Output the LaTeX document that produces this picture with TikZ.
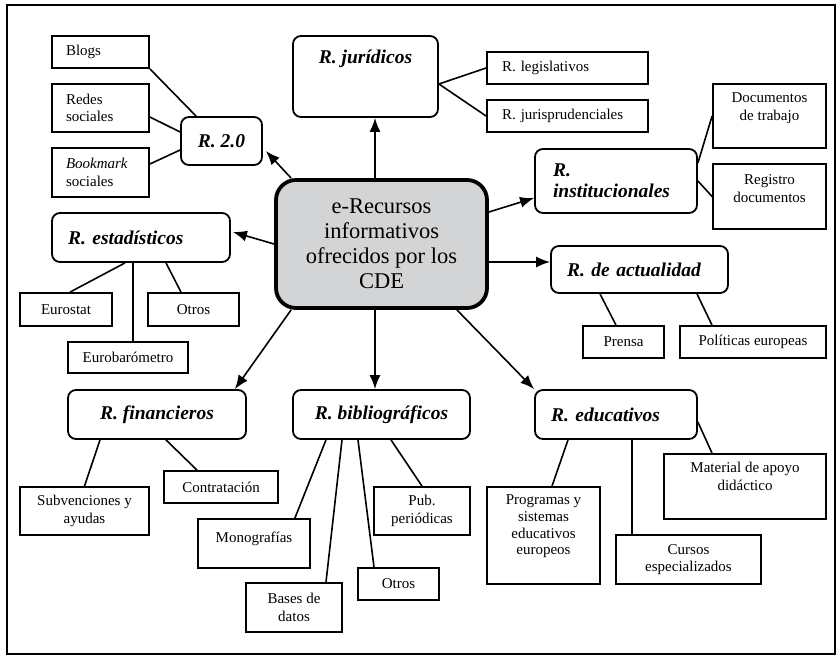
\documentclass[tikz,border=0pt]{standalone}
\usepackage{fontspec}
\setmainfont{Liberation Serif}
\usetikzlibrary{arrows.meta,calc}
\definecolor{cgray}{RGB}{211,212,214}
\tikzset{
  every node/.style={font=\fontsize{15}{17.5}\selectfont},
  leaf/.style={draw, line width=1.8pt, inner sep=0pt, align=center},
  head/.style={draw, line width=1.8pt, rounded corners=8pt, inner sep=0pt, align=center,
    font=\fontsize{19.5}{21}\selectfont\bfseries\itshape},
  conn/.style={line width=1.6pt},
  arr/.style={line width=1.6pt, -{Latex[length=14pt,width=11pt]}},
}
\begin{document}
\begin{tikzpicture}[x=1pt,y=-1pt]
\useasboundingbox (0,0) rectangle (836,656);
\draw[line width=1.5pt] (7,5) rectangle (835,654);

% R. 2.0 group
\node[leaf, minimum width=97pt, minimum height=32pt, text width=69pt, inner xsep=14pt, align=left] (blogs) at (100.5,52) {Blogs};
\node[leaf, minimum width=97pt, minimum height=48pt, text width=69pt, inner xsep=14pt, align=left] (redes) at (100.5,108) {Redes\\sociales};
\node[leaf, minimum width=97pt, minimum height=49pt, text width=69pt, inner xsep=14pt, align=left] (bookm) at (100.5,172.5) {\textit{Bookmark}\\sociales};
\node[head, minimum width=81pt, minimum height=48pt] (r20) at (221.5,141) {R. 2.0};

% R. juridicos group
\node[head, minimum width=145pt, minimum height=81pt, text height=13pt, text depth=40pt] (rjur) at (365.5,76.5) {R. jurídicos};
\node[leaf, minimum width=161pt, minimum height=32pt, text width=131pt, inner xsep=15pt, align=left] (rleg) at (567.5,68) {R. legislativos};
\node[leaf, minimum width=161pt, minimum height=32pt, text width=131pt, inner xsep=15pt, align=left] (rjuris) at (567.5,116) {R. jurisprudenciales};

% R. institucionales group
\node[head, minimum width=162pt, minimum height=64pt, text width=126pt, inner xsep=18pt, align=left] (rinst) at (616,181) {R.\\institucionales};
\node[leaf, minimum width=113pt, minimum height=64pt, text depth=19pt] (docs) at (769.5,116) {Documentos\\de trabajo};
\node[leaf, minimum width=113pt, minimum height=65pt, text depth=16pt] (regis) at (769.5,196.5) {Registro\\documentos};

% R. estadisticos group
\node[head, minimum width=178pt, minimum height=49pt, text width=146pt, inner xsep=16pt, align=left] (rest) at (141,237.5) {R. estadísticos};
\node[leaf, minimum width=92pt, minimum height=33pt] (eurostat) at (66,309.5) {Eurostat};
\node[leaf, minimum width=91pt, minimum height=33pt] (otrosa) at (193.5,309.5) {Otros};
\node[leaf, minimum width=120pt, minimum height=31pt] (eurobar) at (128,357.5) {Eurobarómetro};

% central
\node[draw, line width=3.8pt, rounded corners=20pt, fill=cgray, minimum width=211pt, minimum height=128pt,
  inner sep=0pt, align=center, font=\fontsize{22.5}{25}\selectfont] (central) at (381.5,244)
  {e-Recursos\\informativos\\ofrecidos por los\\CDE};

% R. de actualidad group
\node[head, minimum width=177pt, minimum height=47pt, text width=145pt, inner xsep=16pt, align=left] (ract) at (639.5,269.5) {R. de actualidad};
\node[leaf, minimum width=81pt, minimum height=32pt] (prensa) at (623.5,342) {Prensa};
\node[leaf, minimum width=146pt, minimum height=32pt] (polit) at (753,342) {Políticas europeas};

% R. financieros group
\node[head, minimum width=178pt, minimum height=49pt] (rfin) at (157,414.5) {R. financieros};
\node[leaf, minimum width=129pt, minimum height=48pt] (subv) at (84.5,511) {Subvenciones y\\ayudas};
\node[leaf, minimum width=114pt, minimum height=32pt] (contr) at (221,487) {Contratación};

% R. bibliograficos group
\node[head, minimum width=177pt, minimum height=49pt] (rbib) at (381.5,414.5) {R. bibliográficos};
\node[leaf, minimum width=112pt, minimum height=49pt, text height=11pt, text depth=14pt] (mono) at (254,543.5) {Monografías};
\node[leaf, minimum width=96pt, minimum height=49pt] (bases) at (294,607.5) {Bases de\\datos};
\node[leaf, minimum width=81pt, minimum height=32pt] (otrosb) at (398.5,584) {Otros};
\node[leaf, minimum width=96pt, minimum height=48pt] (pub) at (422,511) {Pub.\\periódicas};

% R. educativos group
\node[head, minimum width=162pt, minimum height=49pt, text width=130pt, inner xsep=16pt, align=left] (reduc) at (616,414.5) {R. educativos};
\node[leaf, minimum width=113pt, minimum height=97pt, text depth=21.4pt,
  font=\fontsize{15}{16.7}\selectfont] (prog) at (543.5,535.5) {Programas y\\sistemas\\educativos\\europeos};
\node[leaf, minimum width=145pt, minimum height=49pt] (cursos) at (688.5,559.5) {Cursos\\especializados};
\node[leaf, minimum width=162pt, minimum height=65pt, text depth=20pt] (mater) at (745,486.5) {Material de apoyo\\didáctico};

% connectors
\draw[conn] (blogs.south east) -- ([xshift=16pt]r20.north west);
\draw[conn] ([yshift=-9pt]redes.east) -- ([yshift=9pt]r20.west);
\draw[conn] ([yshift=8.5pt]bookm.east) -- ([yshift=-9pt]r20.west);
\draw[conn] ([yshift=-7.5pt]rjur.east) -- (rleg.west);
\draw[conn] ([yshift=-7.5pt]rjur.east) -- (rjuris.west);
\draw[conn] ([yshift=18pt]rinst.east) -- (docs.west);
\draw[conn] (rinst.east) -- (regis.west);
\draw[conn] ([xshift=-16pt]rest.south) -- ([xshift=4pt]eurostat.north);
\draw[conn] ([xshift=-8pt]rest.south) -- ([xshift=5pt]eurobar.north);
\draw[conn] ([xshift=25pt]rest.south) -- ([xshift=-12.5pt]otrosa.north);
\draw[conn] ([xshift=-39.5pt]ract.south) -- ([xshift=-7.5pt]prensa.north);
\draw[conn] ([xshift=57.5pt]ract.south) -- ([xshift=-41pt]polit.north);
\draw[conn] ([xshift=-57pt]rfin.south) -- (subv.north);
\draw[conn] ([xshift=9pt]rfin.south) -- ([xshift=-24pt]contr.north);
\draw[conn] ([xshift=-55.5pt]rbib.south) -- ([xshift=-16pt]mono.north east);
\draw[conn] ([xshift=-39.5pt]rbib.south) -- ([xshift=32pt]bases.north);
\draw[conn] ([xshift=-23.5pt]rbib.south) -- ([xshift=-24.5pt]otrosb.north);
\draw[conn] ([xshift=9.5pt]rbib.south) -- (pub.north);
\draw[conn] ([xshift=-48pt]reduc.south) -- ([xshift=8.5pt]prog.north);
\draw[conn] ([xshift=16pt]reduc.south) -- ([xshift=-56.5pt]cursos.north);
\draw[conn] ([yshift=-7.5pt]reduc.east) -- ([xshift=-33pt]mater.north);

% arrows from central
\draw[arr] ([xshift=17pt]central.north west) -- ([xshift=3pt,yshift=-10pt]r20.east);
\draw[arr] ([xshift=-6.5pt]central.north) -- ([xshift=9.5pt]rjur.south);
\draw[arr] ([yshift=32pt]central.east) -- ([yshift=-17pt]rinst.west);
\draw[arr] (central.west) -- ([xshift=2pt,yshift=5.5pt]rest.east);
\draw[arr] ([yshift=-18pt]central.east) -- ([yshift=7.5pt]ract.west);
\draw[arr] ([xshift=17pt]central.south west) -- ([xshift=-12pt]rfin.north east);
\draw[arr] ([xshift=-6.5pt]central.south) -- ([xshift=-6.5pt]rbib.north);
\draw[arr] ([xshift=-32pt]central.south east) -- (reduc.north west);
\end{tikzpicture}
\end{document}
